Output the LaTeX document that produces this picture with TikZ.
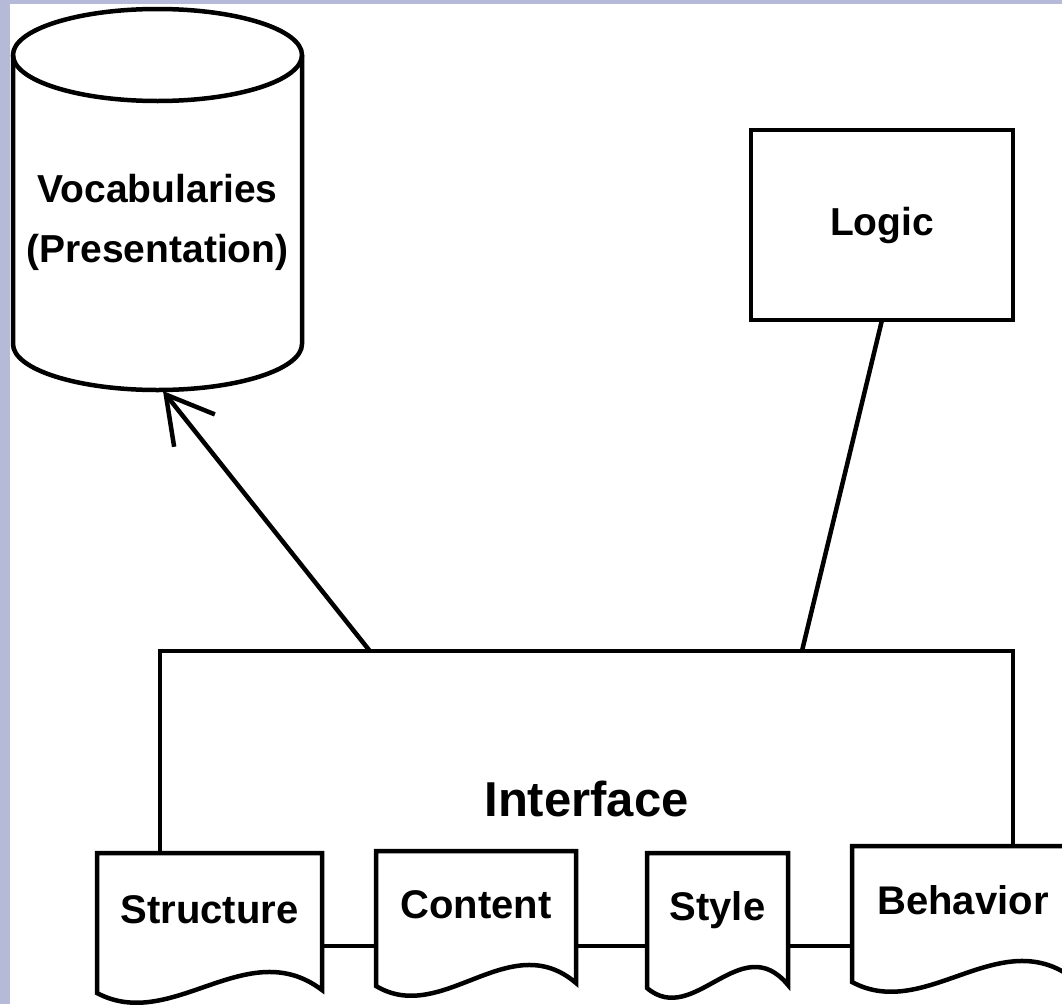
\documentclass[tikz,border=0pt]{standalone}
\usepackage{fontspec}
\setmainfont{Liberation Sans}
\usetikzlibrary{calc,arrows.meta}
\definecolor{framecol}{RGB}{181,186,217}
\pgfdeclarelayer{bg}
\pgfdeclarelayer{iface}
\pgfdeclarelayer{docs}
\pgfsetlayers{bg,iface,docs,main}
\tikzset{
  ln/.style={line width=4.5pt, line join=miter},
  box/.style={ln, draw, fill=white, rectangle, inner sep=0pt, outer sep=0pt},
  lbl/.style={font=\bfseries\fontsize{39}{60}\selectfont},
  docnode/.style={rectangle, inner sep=0pt, outer sep=0pt, anchor=north west,
    text height=12pt, text depth=12pt, font=\bfseries\fontsize{40}{48}\selectfont},
}
\newcommand\docoutline[1]{%
  \begin{pgfonlayer}{docs}
  \draw[ln, fill=white] let \p1=(#1.south west), \p2=(#1.north east) in
    (\x1,\y1) -- (\x1,\y2) -- (\x2,\y2) -- (\x2,\y1+3pt)
    .. controls ({\x1+2*(\x2-\x1)/3},\y1+60pt) and ({\x1+(\x2-\x1)/3},\y1-40pt) .. (\x1,\y1) -- cycle;
  \end{pgfonlayer}}
\begin{document}
\begin{tikzpicture}[x=1pt,y=-1pt]
\useasboundingbox (0,0) rectangle (1062,1004);
\begin{pgfonlayer}{bg}
  \fill[white] (0,0) rectangle (1062,1004);
  \fill[framecol] (0,0) rectangle (10,1004);
  \fill[framecol] (0,0) rectangle (1062,4);
\end{pgfonlayer}

% Vocabularies cylinder
\node[rectangle, minimum width=289pt, minimum height=382pt, inner sep=0pt, outer sep=0pt] (vocab) at (157.5,199) {};
\draw[ln] ($(vocab.north west)+(0,47)$) -- ($(vocab.south west)+(0,-46)$)
  arc(180:360:144.5pt and 46pt) -- ($(vocab.north east)+(0,47)$);
\draw[ln] ($(vocab.north)+(0,47)$) ellipse (144.5pt and 46pt);
\node[lbl, align=center] (vocablabel) at ($(vocab.center)+(0,23)$) {Vocabularies\\(Presentation)};

% Logic
\node[box, lbl, minimum width=262pt, minimum height=190pt] (logic) at (882,225) {Logic};

% Interface
\node[rectangle, inner sep=0pt, outer sep=0pt, minimum width=853pt, minimum height=295pt,
  font=\bfseries\fontsize{49}{58}\selectfont] (interface) at (586.5,798.5) {Interface};
\begin{pgfonlayer}{iface}
  \draw[ln] (interface.south west) rectangle (interface.north east);
\end{pgfonlayer}

% documents
\node[docnode, minimum width=225pt, minimum height=140pt] (structure) at (97,853) {Structure};
\docoutline{structure}
\node[docnode, minimum width=200pt, minimum height=135pt] (content) at (376,851) {Content};
\docoutline{content}
\node[docnode, minimum width=141pt, minimum height=135pt] (style) at (647,853) {Style};
\docoutline{style}
\node[docnode, minimum width=222pt, minimum height=136pt] (behavior) at (852,846) {Behavior};
\docoutline{behavior}

% connectors
\draw[ln, line join=round, -{Straight Barb[length=46pt, width=52pt]}]
  ($(interface.north west)!0.246!(interface.north east)$) -- ($(vocab.south)+(5.5,1)$);
\draw[ln] (logic.south) -- ($(interface.north west)!0.7526!(interface.north east)$);
\end{tikzpicture}
\end{document}
